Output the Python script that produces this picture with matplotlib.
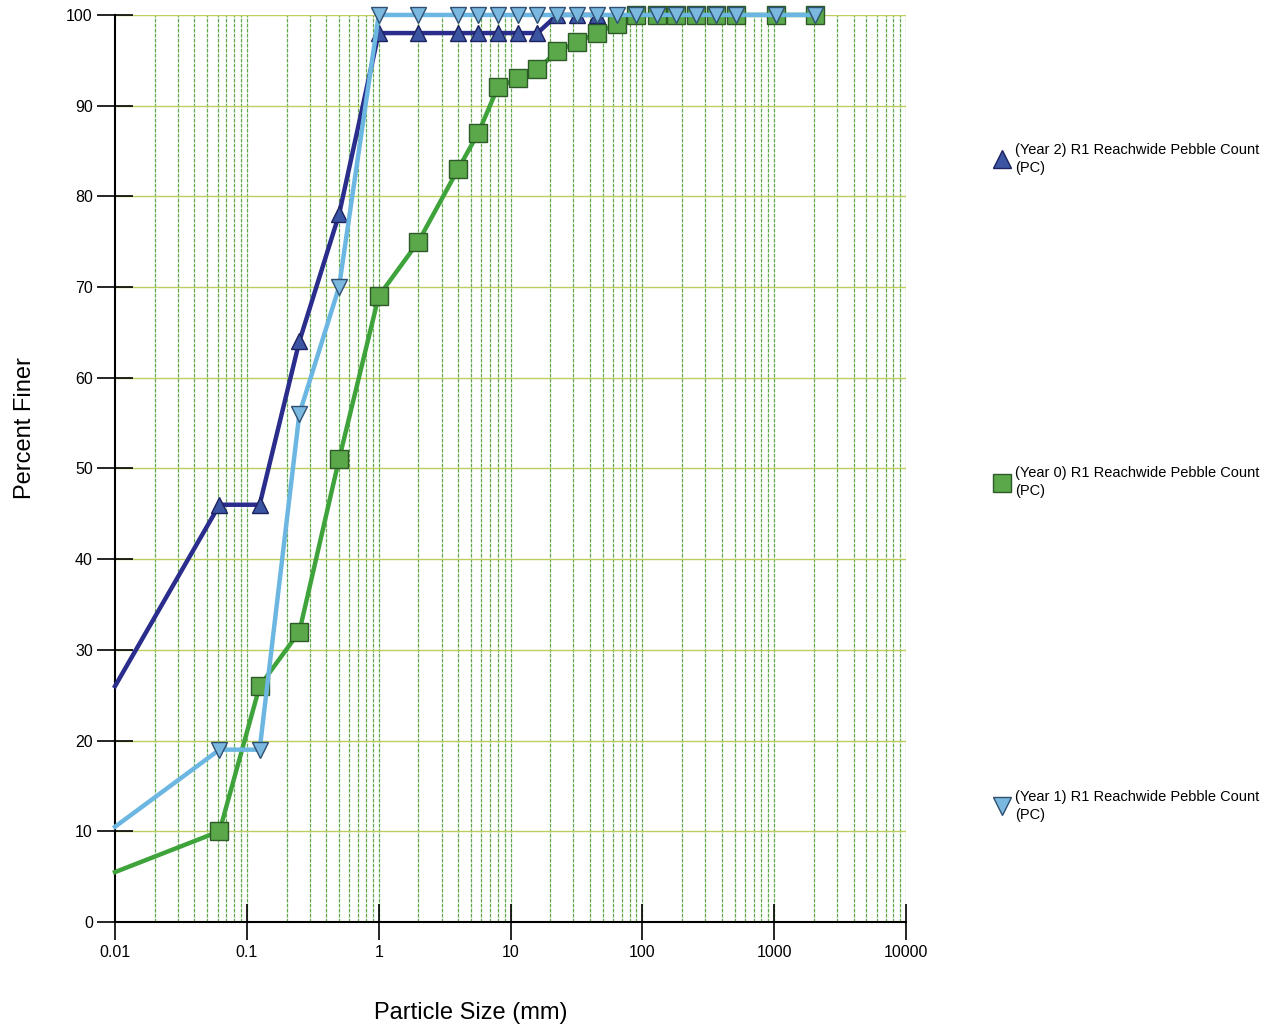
import numpy as np
import matplotlib
matplotlib.use("Agg")
import matplotlib.pyplot as plt
from matplotlib.ticker import FixedLocator, FixedFormatter, NullFormatter

plt.rcParams['font.family'] = ['Liberation Sans', 'DejaVu Sans']

# particle sizes (mm); first point is where each line enters at the left edge
size_y2 = [0.01, 0.062, 0.125, 0.25, 0.5, 1, 2, 4, 5.7, 8, 11.3, 16, 22.6, 32, 45]
pct_y2 = [26, 46, 46, 64, 78, 98, 98, 98, 98, 98, 98, 98, 100, 100, 100]

size_y1 = [0.01, 0.062, 0.125, 0.25, 0.5, 1, 2, 4, 5.7, 8, 11.3, 16, 22.6, 32, 45,
           64, 90, 128, 180, 256, 362, 512, 1024, 2048]
pct_y1 = [10.5, 19, 19, 56, 70, 100, 100, 100, 100, 100, 100, 100, 100, 100, 100,
          100, 100, 100, 100, 100, 100, 100, 100, 100]

size_y0 = [0.01, 0.062, 0.125, 0.25, 0.5, 1, 2, 4, 5.7, 8, 11.3, 16, 22.6, 32, 45,
           64, 90, 128, 180, 256, 362, 512, 1024, 2048]
pct_y0 = [5.5, 10, 26, 32, 51, 69, 75, 83, 87, 92, 93, 94, 96, 97, 98,
          99, 100, 100, 100, 100, 100, 100, 100, 100]

labels = ["(Year 2) R1 Reachwide Pebble Count\n(PC)",
          "(Year 0) R1 Reachwide Pebble Count\n(PC)",
          "(Year 1) R1 Reachwide Pebble Count\n(PC)"]

x_ticks = [0.01, 0.1, 1, 10, 100, 1000, 10000]
x_ticklabels = ["0.01", "0.1", "1", "10", "100", "1000", "10000"]
y_ticks = list(range(0, 101, 10))

fig = plt.figure(figsize=(12.81, 10.29), dpi=100)
ax = fig.add_axes([0.0898, 0.104, 0.6175, 0.8815])

# green grid
minor_pos = [m * 10.0**e for e in range(-2, 4) for m in range(2, 10)]
for xv in minor_pos + x_ticks[1:]:
    ax.axvline(xv, color='#62a84c', lw=0.9, ls=(0, (3, 1)), zorder=0)
for yv in y_ticks[1:]:
    ax.axhline(yv, color='#bccf5e', lw=1.0, zorder=0)

l0, = ax.plot(size_y0, pct_y0, color='#3ea33a', lw=3.2, marker='s', markersize=12.5,
              markerfacecolor='#5aa84a', markeredgecolor='#2d5a27', markeredgewidth=1,
              markevery=slice(1, None), zorder=3)
l2, = ax.plot(size_y2, pct_y2, color='#2a2d8c', lw=3.2, marker='^', markersize=12,
              markerfacecolor='#3b55a3', markeredgecolor='#1c2260', markeredgewidth=1,
              markevery=slice(1, None), zorder=4)
l1, = ax.plot(size_y1, pct_y1, color='#6cb6e2', lw=3.2, marker='v', markersize=12,
              markerfacecolor='#7bb8df', markeredgecolor='#2f4f70', markeredgewidth=1,
              markevery=slice(1, None), zorder=5)
for ln in (l0, l1, l2):
    ln.set_clip_on(False)

ax.set_xscale('log')
ax.set_xlim(0.01, 10000)
ax.set_ylim(0, 100)
ax.xaxis.set_major_locator(FixedLocator(x_ticks))
ax.xaxis.set_major_formatter(FixedFormatter(x_ticklabels))
ax.xaxis.set_minor_formatter(NullFormatter())
ax.yaxis.set_major_locator(FixedLocator(y_ticks))
ax.tick_params(axis='x', which='major', direction='inout', length=26, width=1.2,
               labelsize=11.5, pad=0)
ax.tick_params(axis='x', which='minor', length=0)
ax.tick_params(axis='y', direction='inout', length=26, width=1.2, labelsize=11.5, pad=3)
for lab in ax.get_xticklabels():
    lab.set_y(-0.005)

ax.spines['top'].set_visible(False)
ax.spines['right'].set_visible(False)
ax.spines['left'].set_linewidth(1.5)
ax.spines['bottom'].set_linewidth(1.5)

ax.set_xlabel('Particle Size (mm)', fontsize=17)
ax.set_ylabel('Percent Finer', fontsize=17)
ax.xaxis.set_label_coords(0.45, -0.088)
ax.yaxis.set_label_coords(-0.1, 0.545)

leg = fig.legend([l2, l0, l1], labels, loc='upper left', bbox_to_anchor=(0.7725, 0.867),
                 frameon=False, fontsize=10.5, labelspacing=20.0, handlelength=0.9,
                 handletextpad=0.45, borderaxespad=0, numpoints=1)
for h in leg.legend_handles:
    h.set_linestyle('None')
    h.set_markersize(13)
for t in leg.get_texts():
    t.set_linespacing(1.35)

fig.savefig('out.png', dpi=100)
